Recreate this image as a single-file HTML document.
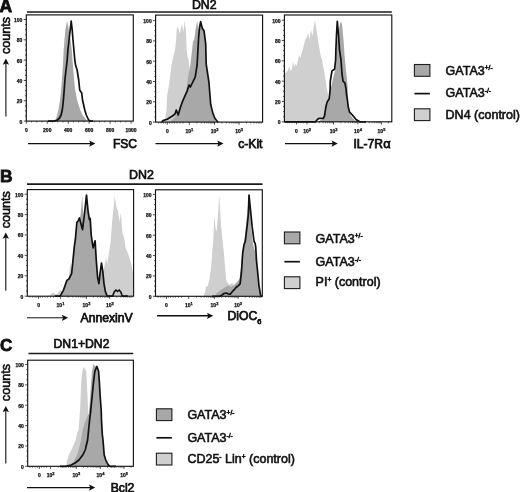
<!DOCTYPE html>
<html><head><meta charset="utf-8"><style>
html,body{margin:0;padding:0;background:#fff;}
svg{display:block;font-family:"Liberation Sans", sans-serif;will-change:transform;}
text{stroke:#111;stroke-width:0.6px;}
</style></head><body>
<svg width="520" height="492" viewBox="0 0 520 492" fill="#111">
<rect width="520" height="492" fill="#fff"/>
<text x="-0.50" y="12.20" font-size="17.5" font-weight="bold" text-anchor="start" style="stroke-width:0.8px">A</text>
<text x="-0.10" y="182.00" font-size="17.4" font-weight="bold" text-anchor="start" style="stroke-width:0.8px">B</text>
<text x="0.00" y="351.40" font-size="17" font-weight="bold" text-anchor="start" style="stroke-width:0.8px">C</text>
<text x="204.20" y="9.40" font-size="12.3" font-weight="normal" text-anchor="middle" style="stroke-width:0.7px">DN2</text>
<text x="141.40" y="178.60" font-size="12.4" font-weight="normal" text-anchor="middle" style="stroke-width:0.7px">DN2</text>
<text x="81.50" y="347.60" font-size="12.2" font-weight="normal" text-anchor="middle" style="stroke-width:0.7px">DN1+DN2</text>
<line x1="27" y1="12.0" x2="391.8" y2="12.0" stroke="#1a1a1a" stroke-width="1.7"/>
<line x1="27" y1="184.2" x2="262.5" y2="184.2" stroke="#1a1a1a" stroke-width="1.7"/>
<line x1="28.5" y1="353.5" x2="133.3" y2="353.5" stroke="#1a1a1a" stroke-width="1.7"/>
<polygon points="54.5,121.1 54.5,121.1 55.8,120.0 58.4,110.0 60.0,100.0 61.1,90.0 62.6,70.0 63.7,50.0 64.5,40.0 65.3,30.0 67.1,21.1 69.0,30.0 70.5,40.0 71.8,50.0 72.5,60.0 73.3,70.0 74.1,80.0 75.2,90.0 77.1,100.0 80.2,110.0 82.5,115.0 86.3,120.0 88.5,121.1 88.5,121.1" fill="#a8a8a8" stroke="none"/>
<polyline points="48.0,121.1 54.0,121.1 57.3,120.0 59.6,118.0 61.1,115.0 62.3,110.0 63.4,100.0 64.2,90.0 64.9,80.0 66.0,70.0 67.2,60.0 67.9,50.0 69.0,40.0 70.2,30.0 71.2,21.1 72.2,30.0 73.0,40.0 73.9,50.0 74.8,60.0 75.6,65.3 77.1,70.0 78.7,80.0 79.7,90.0 81.7,93.0 82.5,100.0 84.8,110.0 86.3,115.0 88.6,120.0 90.5,121.1 93.0,121.1" fill="none" stroke="#111" stroke-width="1.7" stroke-linejoin="round"/>
<polygon points="162.3,122.1 162.3,122.1 163.5,120.5 165.3,118.0 166.5,110.0 167.2,95.0 169.0,85.0 171.5,65.0 173.7,55.0 174.9,50.0 176.2,40.0 176.6,30.0 177.8,26.4 179.8,33.7 181.9,23.9 183.5,32.0 184.7,21.1 185.9,30.0 186.3,40.0 186.7,50.0 187.5,57.0 188.4,58.8 189.6,69.2 191.0,80.0 193.0,110.0 196.0,121.0 196.0,122.1" fill="#cfcfcf" stroke="none"/>
<polygon points="170.0,122.1 170.0,122.1 174.0,118.0 178.0,112.0 182.0,104.0 186.0,92.0 188.0,77.2 190.4,65.0 193.0,41.5 194.2,39.8 195.5,30.0 197.1,20.8 198.5,30.0 200.6,22.0 202.3,28.3 204.0,31.0 205.5,44.0 206.2,64.2 208.6,82.0 210.2,104.5 212.3,113.4 214.8,119.0 216.0,122.1 216.0,122.1" fill="#a8a8a8" stroke="none"/>
<polyline points="161.5,122.1 163.0,120.6 167.2,119.3 172.0,116.2 175.0,114.0 176.3,110.1 178.2,115.0 180.2,108.0 182.4,101.6 187.3,90.6 189.1,85.1 190.4,87.0 191.6,84.5 195.2,77.2 197.1,65.0 198.6,38.0 199.5,28.0 200.6,21.7 202.3,28.3 204.0,30.7 205.7,43.8 206.2,64.2 208.9,82.0 210.7,104.5 212.9,113.4 215.0,118.5 216.8,120.8 218.2,122.1" fill="none" stroke="#111" stroke-width="1.7" stroke-linejoin="round"/>
<polygon points="284.4,121.8 284.4,121.8 284.4,73.5 286.0,72.5 287.5,71.0 289.3,66.5 290.5,71.0 292.0,69.0 293.0,60.4 294.2,67.0 295.4,64.0 296.5,66.0 298.0,60.0 299.0,54.9 300.5,58.0 302.1,51.8 303.5,47.0 305.0,40.0 306.5,38.0 308.2,32.9 309.5,40.0 311.1,30.0 312.5,36.0 313.5,28.0 314.9,20.2 316.5,30.0 318.6,43.8 320.0,52.0 321.0,57.0 322.1,60.0 323.0,66.0 324.0,70.0 325.5,80.0 327.0,90.0 328.2,95.0 328.8,99.0 327.1,102.1 325.8,107.3 324.5,116.0 323.2,118.5 319.7,118.4 317.5,119.8 316.0,121.8 316.0,121.8" fill="#cfcfcf" stroke="none"/>
<polygon points="318.0,121.8 318.0,121.8 323.2,118.5 324.5,116.0 325.8,107.3 327.1,102.1 329.2,98.7 330.1,90.0 331.5,86.0 333.1,78.0 335.2,70.0 335.6,60.0 336.5,45.0 338.5,32.0 340.0,24.0 341.1,21.3 342.3,26.0 343.5,40.0 344.8,58.0 346.0,70.0 347.4,84.0 347.8,90.0 348.3,107.3 349.5,112.0 351.0,116.0 353.0,118.5 356.3,121.8 356.3,121.8" fill="#a8a8a8" stroke="none"/>
<polyline points="284.6,121.8 315.6,121.8 317.3,119.6 318.6,118.5 319.7,118.4 323.2,118.5 324.5,116.0 325.8,107.3 327.1,102.1 329.2,98.7 330.1,90.0 330.3,81.3 331.4,74.2 332.1,70.7 334.6,69.2 335.6,60.0 335.9,49.6 336.5,35.0 337.3,21.3 338.5,35.0 339.5,50.0 341.0,60.0 342.0,74.2 343.1,81.3 344.9,82.8 345.9,88.4 346.6,95.0 347.4,100.0 348.3,107.3 349.5,112.0 353.0,115.7 356.0,119.5 359.7,121.8 366.0,121.8" fill="none" stroke="#111" stroke-width="1.7" stroke-linejoin="round"/>
<rect x="26.3" y="14.9" width="107.00000000000001" height="106.19999999999999" fill="none" stroke="#141414" stroke-width="1.15"/>
<rect x="155.6" y="15.1" width="107.00000000000003" height="107.0" fill="none" stroke="#141414" stroke-width="1.15"/>
<rect x="284.4" y="15.0" width="107.40000000000003" height="106.8" fill="none" stroke="#141414" stroke-width="1.15"/>
<line x1="23.70" y1="121.10" x2="26.3" y2="121.10" stroke="#222" stroke-width="0.8"/>
<text x="22.40" y="123.50" font-size="5.0" font-weight="bold" text-anchor="end" style="stroke-width:0.25px">0</text>
<line x1="25.00" y1="116.02" x2="26.3" y2="116.02" stroke="#222" stroke-width="0.8"/>
<line x1="25.00" y1="110.94" x2="26.3" y2="110.94" stroke="#222" stroke-width="0.8"/>
<line x1="25.00" y1="105.86" x2="26.3" y2="105.86" stroke="#222" stroke-width="0.8"/>
<line x1="23.70" y1="100.78" x2="26.3" y2="100.78" stroke="#222" stroke-width="0.8"/>
<text x="22.40" y="103.18" font-size="5.0" font-weight="bold" text-anchor="end" style="stroke-width:0.25px">20</text>
<line x1="25.00" y1="95.70" x2="26.3" y2="95.70" stroke="#222" stroke-width="0.8"/>
<line x1="25.00" y1="90.62" x2="26.3" y2="90.62" stroke="#222" stroke-width="0.8"/>
<line x1="25.00" y1="85.54" x2="26.3" y2="85.54" stroke="#222" stroke-width="0.8"/>
<line x1="23.70" y1="80.46" x2="26.3" y2="80.46" stroke="#222" stroke-width="0.8"/>
<text x="22.40" y="82.86" font-size="5.0" font-weight="bold" text-anchor="end" style="stroke-width:0.25px">40</text>
<line x1="25.00" y1="75.38" x2="26.3" y2="75.38" stroke="#222" stroke-width="0.8"/>
<line x1="25.00" y1="70.30" x2="26.3" y2="70.30" stroke="#222" stroke-width="0.8"/>
<line x1="25.00" y1="65.22" x2="26.3" y2="65.22" stroke="#222" stroke-width="0.8"/>
<line x1="23.70" y1="60.14" x2="26.3" y2="60.14" stroke="#222" stroke-width="0.8"/>
<text x="22.40" y="62.54" font-size="5.0" font-weight="bold" text-anchor="end" style="stroke-width:0.25px">60</text>
<line x1="25.00" y1="55.06" x2="26.3" y2="55.06" stroke="#222" stroke-width="0.8"/>
<line x1="25.00" y1="49.98" x2="26.3" y2="49.98" stroke="#222" stroke-width="0.8"/>
<line x1="25.00" y1="44.90" x2="26.3" y2="44.90" stroke="#222" stroke-width="0.8"/>
<line x1="23.70" y1="39.82" x2="26.3" y2="39.82" stroke="#222" stroke-width="0.8"/>
<text x="22.40" y="42.22" font-size="5.0" font-weight="bold" text-anchor="end" style="stroke-width:0.25px">80</text>
<line x1="25.00" y1="34.74" x2="26.3" y2="34.74" stroke="#222" stroke-width="0.8"/>
<line x1="25.00" y1="29.66" x2="26.3" y2="29.66" stroke="#222" stroke-width="0.8"/>
<line x1="25.00" y1="24.58" x2="26.3" y2="24.58" stroke="#222" stroke-width="0.8"/>
<line x1="23.70" y1="19.50" x2="26.3" y2="19.50" stroke="#222" stroke-width="0.8"/>
<text x="22.40" y="21.90" font-size="5.0" font-weight="bold" text-anchor="end" style="stroke-width:0.25px">100</text>
<line x1="153.00" y1="122.10" x2="155.6" y2="122.10" stroke="#222" stroke-width="0.8"/>
<text x="151.70" y="124.50" font-size="5.0" font-weight="bold" text-anchor="end" style="stroke-width:0.25px">0</text>
<line x1="154.30" y1="117.02" x2="155.6" y2="117.02" stroke="#222" stroke-width="0.8"/>
<line x1="154.30" y1="111.95" x2="155.6" y2="111.95" stroke="#222" stroke-width="0.8"/>
<line x1="154.30" y1="106.88" x2="155.6" y2="106.88" stroke="#222" stroke-width="0.8"/>
<line x1="153.00" y1="101.80" x2="155.6" y2="101.80" stroke="#222" stroke-width="0.8"/>
<text x="151.70" y="104.20" font-size="5.0" font-weight="bold" text-anchor="end" style="stroke-width:0.25px">20</text>
<line x1="154.30" y1="96.72" x2="155.6" y2="96.72" stroke="#222" stroke-width="0.8"/>
<line x1="154.30" y1="91.65" x2="155.6" y2="91.65" stroke="#222" stroke-width="0.8"/>
<line x1="154.30" y1="86.57" x2="155.6" y2="86.57" stroke="#222" stroke-width="0.8"/>
<line x1="153.00" y1="81.50" x2="155.6" y2="81.50" stroke="#222" stroke-width="0.8"/>
<text x="151.70" y="83.90" font-size="5.0" font-weight="bold" text-anchor="end" style="stroke-width:0.25px">40</text>
<line x1="154.30" y1="76.42" x2="155.6" y2="76.42" stroke="#222" stroke-width="0.8"/>
<line x1="154.30" y1="71.35" x2="155.6" y2="71.35" stroke="#222" stroke-width="0.8"/>
<line x1="154.30" y1="66.28" x2="155.6" y2="66.28" stroke="#222" stroke-width="0.8"/>
<line x1="153.00" y1="61.20" x2="155.6" y2="61.20" stroke="#222" stroke-width="0.8"/>
<text x="151.70" y="63.60" font-size="5.0" font-weight="bold" text-anchor="end" style="stroke-width:0.25px">60</text>
<line x1="154.30" y1="56.12" x2="155.6" y2="56.12" stroke="#222" stroke-width="0.8"/>
<line x1="154.30" y1="51.05" x2="155.6" y2="51.05" stroke="#222" stroke-width="0.8"/>
<line x1="154.30" y1="45.98" x2="155.6" y2="45.98" stroke="#222" stroke-width="0.8"/>
<line x1="153.00" y1="40.90" x2="155.6" y2="40.90" stroke="#222" stroke-width="0.8"/>
<text x="151.70" y="43.30" font-size="5.0" font-weight="bold" text-anchor="end" style="stroke-width:0.25px">80</text>
<line x1="154.30" y1="35.83" x2="155.6" y2="35.83" stroke="#222" stroke-width="0.8"/>
<line x1="154.30" y1="30.75" x2="155.6" y2="30.75" stroke="#222" stroke-width="0.8"/>
<line x1="154.30" y1="25.67" x2="155.6" y2="25.67" stroke="#222" stroke-width="0.8"/>
<line x1="153.00" y1="20.60" x2="155.6" y2="20.60" stroke="#222" stroke-width="0.8"/>
<text x="151.70" y="23.00" font-size="5.0" font-weight="bold" text-anchor="end" style="stroke-width:0.25px">100</text>
<line x1="281.80" y1="121.80" x2="284.4" y2="121.80" stroke="#222" stroke-width="0.8"/>
<text x="280.50" y="124.20" font-size="5.0" font-weight="bold" text-anchor="end" style="stroke-width:0.25px">0</text>
<line x1="283.10" y1="116.72" x2="284.4" y2="116.72" stroke="#222" stroke-width="0.8"/>
<line x1="283.10" y1="111.64" x2="284.4" y2="111.64" stroke="#222" stroke-width="0.8"/>
<line x1="283.10" y1="106.56" x2="284.4" y2="106.56" stroke="#222" stroke-width="0.8"/>
<line x1="281.80" y1="101.48" x2="284.4" y2="101.48" stroke="#222" stroke-width="0.8"/>
<text x="280.50" y="103.88" font-size="5.0" font-weight="bold" text-anchor="end" style="stroke-width:0.25px">20</text>
<line x1="283.10" y1="96.40" x2="284.4" y2="96.40" stroke="#222" stroke-width="0.8"/>
<line x1="283.10" y1="91.32" x2="284.4" y2="91.32" stroke="#222" stroke-width="0.8"/>
<line x1="283.10" y1="86.24" x2="284.4" y2="86.24" stroke="#222" stroke-width="0.8"/>
<line x1="281.80" y1="81.16" x2="284.4" y2="81.16" stroke="#222" stroke-width="0.8"/>
<text x="280.50" y="83.56" font-size="5.0" font-weight="bold" text-anchor="end" style="stroke-width:0.25px">40</text>
<line x1="283.10" y1="76.08" x2="284.4" y2="76.08" stroke="#222" stroke-width="0.8"/>
<line x1="283.10" y1="71.00" x2="284.4" y2="71.00" stroke="#222" stroke-width="0.8"/>
<line x1="283.10" y1="65.92" x2="284.4" y2="65.92" stroke="#222" stroke-width="0.8"/>
<line x1="281.80" y1="60.84" x2="284.4" y2="60.84" stroke="#222" stroke-width="0.8"/>
<text x="280.50" y="63.24" font-size="5.0" font-weight="bold" text-anchor="end" style="stroke-width:0.25px">60</text>
<line x1="283.10" y1="55.76" x2="284.4" y2="55.76" stroke="#222" stroke-width="0.8"/>
<line x1="283.10" y1="50.68" x2="284.4" y2="50.68" stroke="#222" stroke-width="0.8"/>
<line x1="283.10" y1="45.60" x2="284.4" y2="45.60" stroke="#222" stroke-width="0.8"/>
<line x1="281.80" y1="40.52" x2="284.4" y2="40.52" stroke="#222" stroke-width="0.8"/>
<text x="280.50" y="42.92" font-size="5.0" font-weight="bold" text-anchor="end" style="stroke-width:0.25px">80</text>
<line x1="283.10" y1="35.44" x2="284.4" y2="35.44" stroke="#222" stroke-width="0.8"/>
<line x1="283.10" y1="30.36" x2="284.4" y2="30.36" stroke="#222" stroke-width="0.8"/>
<line x1="283.10" y1="25.28" x2="284.4" y2="25.28" stroke="#222" stroke-width="0.8"/>
<line x1="281.80" y1="20.20" x2="284.4" y2="20.20" stroke="#222" stroke-width="0.8"/>
<text x="280.50" y="22.60" font-size="5.0" font-weight="bold" text-anchor="end" style="stroke-width:0.25px">100</text>
<line x1="26.30" y1="121.1" x2="26.30" y2="123.69999999999999" stroke="#222" stroke-width="0.8"/>
<line x1="47.25" y1="121.1" x2="47.25" y2="123.69999999999999" stroke="#222" stroke-width="0.8"/>
<line x1="68.20" y1="121.1" x2="68.20" y2="123.69999999999999" stroke="#222" stroke-width="0.8"/>
<line x1="89.15" y1="121.1" x2="89.15" y2="123.69999999999999" stroke="#222" stroke-width="0.8"/>
<line x1="110.10" y1="121.1" x2="110.10" y2="123.69999999999999" stroke="#222" stroke-width="0.8"/>
<line x1="131.05" y1="121.1" x2="131.05" y2="123.69999999999999" stroke="#222" stroke-width="0.8"/>
<line x1="31.54" y1="121.1" x2="31.54" y2="122.5" stroke="#222" stroke-width="0.7"/>
<line x1="36.77" y1="121.1" x2="36.77" y2="122.5" stroke="#222" stroke-width="0.7"/>
<line x1="42.01" y1="121.1" x2="42.01" y2="122.5" stroke="#222" stroke-width="0.7"/>
<line x1="52.49" y1="121.1" x2="52.49" y2="122.5" stroke="#222" stroke-width="0.7"/>
<line x1="57.72" y1="121.1" x2="57.72" y2="122.5" stroke="#222" stroke-width="0.7"/>
<line x1="62.96" y1="121.1" x2="62.96" y2="122.5" stroke="#222" stroke-width="0.7"/>
<line x1="73.44" y1="121.1" x2="73.44" y2="122.5" stroke="#222" stroke-width="0.7"/>
<line x1="78.67" y1="121.1" x2="78.67" y2="122.5" stroke="#222" stroke-width="0.7"/>
<line x1="83.91" y1="121.1" x2="83.91" y2="122.5" stroke="#222" stroke-width="0.7"/>
<line x1="94.39" y1="121.1" x2="94.39" y2="122.5" stroke="#222" stroke-width="0.7"/>
<line x1="99.62" y1="121.1" x2="99.62" y2="122.5" stroke="#222" stroke-width="0.7"/>
<line x1="104.86" y1="121.1" x2="104.86" y2="122.5" stroke="#222" stroke-width="0.7"/>
<line x1="115.34" y1="121.1" x2="115.34" y2="122.5" stroke="#222" stroke-width="0.7"/>
<line x1="120.57" y1="121.1" x2="120.57" y2="122.5" stroke="#222" stroke-width="0.7"/>
<line x1="125.81" y1="121.1" x2="125.81" y2="122.5" stroke="#222" stroke-width="0.7"/>
<text x="26.30" y="132.00" font-size="5.0" font-weight="bold" text-anchor="middle" style="stroke-width:0.25px">0</text>
<text x="47.25" y="132.00" font-size="5.0" font-weight="bold" text-anchor="middle" style="stroke-width:0.25px">200</text>
<text x="68.20" y="132.00" font-size="5.0" font-weight="bold" text-anchor="middle" style="stroke-width:0.25px">400</text>
<text x="89.15" y="132.00" font-size="5.0" font-weight="bold" text-anchor="middle" style="stroke-width:0.25px">600</text>
<text x="110.10" y="132.00" font-size="5.0" font-weight="bold" text-anchor="middle" style="stroke-width:0.25px">800</text>
<text x="131.05" y="132.00" font-size="5.0" font-weight="bold" text-anchor="middle" style="stroke-width:0.25px">1000</text>
<line x1="167.30" y1="122.1" x2="167.30" y2="124.69999999999999" stroke="#222" stroke-width="0.8"/>
<line x1="189.30" y1="122.1" x2="189.30" y2="124.69999999999999" stroke="#222" stroke-width="0.8"/>
<line x1="214.50" y1="122.1" x2="214.50" y2="124.69999999999999" stroke="#222" stroke-width="0.8"/>
<line x1="239.10" y1="122.1" x2="239.10" y2="124.69999999999999" stroke="#222" stroke-width="0.8"/>
<line x1="158.50" y1="122.1" x2="158.50" y2="123.5" stroke="#222" stroke-width="0.7"/>
<line x1="161.00" y1="122.1" x2="161.00" y2="123.5" stroke="#222" stroke-width="0.7"/>
<line x1="163.50" y1="122.1" x2="163.50" y2="123.5" stroke="#222" stroke-width="0.7"/>
<line x1="165.50" y1="122.1" x2="165.50" y2="123.5" stroke="#222" stroke-width="0.7"/>
<line x1="169.50" y1="122.1" x2="169.50" y2="123.5" stroke="#222" stroke-width="0.7"/>
<line x1="172.00" y1="122.1" x2="172.00" y2="123.5" stroke="#222" stroke-width="0.7"/>
<line x1="174.50" y1="122.1" x2="174.50" y2="123.5" stroke="#222" stroke-width="0.7"/>
<line x1="177.00" y1="122.1" x2="177.00" y2="123.5" stroke="#222" stroke-width="0.7"/>
<line x1="180.00" y1="122.1" x2="180.00" y2="123.5" stroke="#222" stroke-width="0.7"/>
<line x1="183.00" y1="122.1" x2="183.00" y2="123.5" stroke="#222" stroke-width="0.7"/>
<line x1="196.89" y1="122.1" x2="196.89" y2="123.5" stroke="#222" stroke-width="0.7"/>
<line x1="201.32" y1="122.1" x2="201.32" y2="123.5" stroke="#222" stroke-width="0.7"/>
<line x1="204.47" y1="122.1" x2="204.47" y2="123.5" stroke="#222" stroke-width="0.7"/>
<line x1="206.91" y1="122.1" x2="206.91" y2="123.5" stroke="#222" stroke-width="0.7"/>
<line x1="208.91" y1="122.1" x2="208.91" y2="123.5" stroke="#222" stroke-width="0.7"/>
<line x1="210.60" y1="122.1" x2="210.60" y2="123.5" stroke="#222" stroke-width="0.7"/>
<line x1="212.06" y1="122.1" x2="212.06" y2="123.5" stroke="#222" stroke-width="0.7"/>
<line x1="213.35" y1="122.1" x2="213.35" y2="123.5" stroke="#222" stroke-width="0.7"/>
<line x1="221.91" y1="122.1" x2="221.91" y2="123.5" stroke="#222" stroke-width="0.7"/>
<line x1="226.24" y1="122.1" x2="226.24" y2="123.5" stroke="#222" stroke-width="0.7"/>
<line x1="229.31" y1="122.1" x2="229.31" y2="123.5" stroke="#222" stroke-width="0.7"/>
<line x1="231.69" y1="122.1" x2="231.69" y2="123.5" stroke="#222" stroke-width="0.7"/>
<line x1="233.64" y1="122.1" x2="233.64" y2="123.5" stroke="#222" stroke-width="0.7"/>
<line x1="235.29" y1="122.1" x2="235.29" y2="123.5" stroke="#222" stroke-width="0.7"/>
<line x1="236.72" y1="122.1" x2="236.72" y2="123.5" stroke="#222" stroke-width="0.7"/>
<line x1="237.97" y1="122.1" x2="237.97" y2="123.5" stroke="#222" stroke-width="0.7"/>
<line x1="246.51" y1="122.1" x2="246.51" y2="123.5" stroke="#222" stroke-width="0.7"/>
<line x1="250.84" y1="122.1" x2="250.84" y2="123.5" stroke="#222" stroke-width="0.7"/>
<line x1="253.91" y1="122.1" x2="253.91" y2="123.5" stroke="#222" stroke-width="0.7"/>
<line x1="256.29" y1="122.1" x2="256.29" y2="123.5" stroke="#222" stroke-width="0.7"/>
<line x1="258.24" y1="122.1" x2="258.24" y2="123.5" stroke="#222" stroke-width="0.7"/>
<line x1="259.89" y1="122.1" x2="259.89" y2="123.5" stroke="#222" stroke-width="0.7"/>
<line x1="261.32" y1="122.1" x2="261.32" y2="123.5" stroke="#222" stroke-width="0.7"/>
<text x="167.30" y="133.20" font-size="5.0" font-weight="bold" text-anchor="middle" style="stroke-width:0.25px">0</text>
<text x="189.40" y="133.20" font-size="5.0" font-weight="bold" text-anchor="middle" style="stroke-width:0.25px">10<tspan font-size="4.0" dy="-2.4">1</tspan></text>
<text x="214.60" y="133.20" font-size="5.0" font-weight="bold" text-anchor="middle" style="stroke-width:0.25px">10<tspan font-size="4.0" dy="-2.4">2</tspan></text>
<text x="239.20" y="133.20" font-size="5.0" font-weight="bold" text-anchor="middle" style="stroke-width:0.25px">10<tspan font-size="4.0" dy="-2.4">3</tspan></text>
<line x1="296.50" y1="121.8" x2="296.50" y2="124.39999999999999" stroke="#222" stroke-width="0.8"/>
<line x1="307.00" y1="121.8" x2="307.00" y2="124.39999999999999" stroke="#222" stroke-width="0.8"/>
<line x1="333.50" y1="121.8" x2="333.50" y2="124.39999999999999" stroke="#222" stroke-width="0.8"/>
<line x1="357.90" y1="121.8" x2="357.90" y2="124.39999999999999" stroke="#222" stroke-width="0.8"/>
<line x1="381.40" y1="121.8" x2="381.40" y2="124.39999999999999" stroke="#222" stroke-width="0.8"/>
<line x1="287.00" y1="121.8" x2="287.00" y2="123.2" stroke="#222" stroke-width="0.7"/>
<line x1="289.50" y1="121.8" x2="289.50" y2="123.2" stroke="#222" stroke-width="0.7"/>
<line x1="292.00" y1="121.8" x2="292.00" y2="123.2" stroke="#222" stroke-width="0.7"/>
<line x1="294.50" y1="121.8" x2="294.50" y2="123.2" stroke="#222" stroke-width="0.7"/>
<line x1="298.50" y1="121.8" x2="298.50" y2="123.2" stroke="#222" stroke-width="0.7"/>
<line x1="301.00" y1="121.8" x2="301.00" y2="123.2" stroke="#222" stroke-width="0.7"/>
<line x1="303.50" y1="121.8" x2="303.50" y2="123.2" stroke="#222" stroke-width="0.7"/>
<line x1="314.98" y1="121.8" x2="314.98" y2="123.2" stroke="#222" stroke-width="0.7"/>
<line x1="319.64" y1="121.8" x2="319.64" y2="123.2" stroke="#222" stroke-width="0.7"/>
<line x1="322.95" y1="121.8" x2="322.95" y2="123.2" stroke="#222" stroke-width="0.7"/>
<line x1="325.52" y1="121.8" x2="325.52" y2="123.2" stroke="#222" stroke-width="0.7"/>
<line x1="327.62" y1="121.8" x2="327.62" y2="123.2" stroke="#222" stroke-width="0.7"/>
<line x1="329.40" y1="121.8" x2="329.40" y2="123.2" stroke="#222" stroke-width="0.7"/>
<line x1="330.93" y1="121.8" x2="330.93" y2="123.2" stroke="#222" stroke-width="0.7"/>
<line x1="332.29" y1="121.8" x2="332.29" y2="123.2" stroke="#222" stroke-width="0.7"/>
<line x1="340.85" y1="121.8" x2="340.85" y2="123.2" stroke="#222" stroke-width="0.7"/>
<line x1="345.14" y1="121.8" x2="345.14" y2="123.2" stroke="#222" stroke-width="0.7"/>
<line x1="348.19" y1="121.8" x2="348.19" y2="123.2" stroke="#222" stroke-width="0.7"/>
<line x1="350.55" y1="121.8" x2="350.55" y2="123.2" stroke="#222" stroke-width="0.7"/>
<line x1="352.49" y1="121.8" x2="352.49" y2="123.2" stroke="#222" stroke-width="0.7"/>
<line x1="354.12" y1="121.8" x2="354.12" y2="123.2" stroke="#222" stroke-width="0.7"/>
<line x1="355.54" y1="121.8" x2="355.54" y2="123.2" stroke="#222" stroke-width="0.7"/>
<line x1="356.78" y1="121.8" x2="356.78" y2="123.2" stroke="#222" stroke-width="0.7"/>
<line x1="364.97" y1="121.8" x2="364.97" y2="123.2" stroke="#222" stroke-width="0.7"/>
<line x1="369.11" y1="121.8" x2="369.11" y2="123.2" stroke="#222" stroke-width="0.7"/>
<line x1="372.05" y1="121.8" x2="372.05" y2="123.2" stroke="#222" stroke-width="0.7"/>
<line x1="374.33" y1="121.8" x2="374.33" y2="123.2" stroke="#222" stroke-width="0.7"/>
<line x1="376.19" y1="121.8" x2="376.19" y2="123.2" stroke="#222" stroke-width="0.7"/>
<line x1="377.76" y1="121.8" x2="377.76" y2="123.2" stroke="#222" stroke-width="0.7"/>
<line x1="379.12" y1="121.8" x2="379.12" y2="123.2" stroke="#222" stroke-width="0.7"/>
<line x1="380.32" y1="121.8" x2="380.32" y2="123.2" stroke="#222" stroke-width="0.7"/>
<line x1="388.47" y1="121.8" x2="388.47" y2="123.2" stroke="#222" stroke-width="0.7"/>
<text x="296.50" y="133.00" font-size="5.0" font-weight="bold" text-anchor="middle" style="stroke-width:0.25px">0</text>
<text x="307.10" y="133.00" font-size="5.0" font-weight="bold" text-anchor="middle" style="stroke-width:0.25px">10<tspan font-size="4.0" dy="-2.4">2</tspan></text>
<text x="333.60" y="133.00" font-size="5.0" font-weight="bold" text-anchor="middle" style="stroke-width:0.25px">10<tspan font-size="4.0" dy="-2.4">3</tspan></text>
<text x="358.00" y="133.00" font-size="5.0" font-weight="bold" text-anchor="middle" style="stroke-width:0.25px">10<tspan font-size="4.0" dy="-2.4">4</tspan></text>
<text x="381.50" y="133.00" font-size="5.0" font-weight="bold" text-anchor="middle" style="stroke-width:0.25px">10<tspan font-size="4.0" dy="-2.4">5</tspan></text>
<line x1="28" y1="143.6" x2="91.4" y2="143.6" stroke="#111" stroke-width="1.1"/>
<polygon points="95.4,143.6 89.2,140.5 90.4,143.6 89.2,146.7" fill="#111"/>
<line x1="155.5" y1="143.6" x2="219.5" y2="143.6" stroke="#111" stroke-width="1.1"/>
<polygon points="223.5,143.6 217.3,140.5 218.5,143.6 217.3,146.7" fill="#111"/>
<line x1="285" y1="143.6" x2="333.8" y2="143.6" stroke="#111" stroke-width="1.1"/>
<polygon points="337.8,143.6 331.6,140.5 332.8,143.6 331.6,146.7" fill="#111"/>
<text x="112.90" y="148.10" font-size="12.1" font-weight="normal" text-anchor="start" style="stroke-width:0.75px">FSC</text>
<text x="238.30" y="148.00" font-size="12.1" font-weight="normal" text-anchor="start" style="stroke-width:0.75px">c-Kit</text>
<text x="353.4" y="148.0" font-size="12.1" style="stroke-width:0.75px">IL-7R<tspan dx="0.3" font-size="12.8">&#945;</tspan></text>
<text x="6.3" y="35.5" font-size="12.6" text-anchor="middle" transform="rotate(-90 6.3 35.5)" dominant-baseline="central" style="stroke-width:0.6px">counts</text>
<line x1="5.9" y1="116.4" x2="5.9" y2="62.6" stroke="#111" stroke-width="1.1"/>
<polygon points="5.9,58.6 2.7,64.8 5.9,63.6 9.100000000000001,64.8" fill="#111"/>
<rect x="414.4" y="64.5" width="15.5" height="11.8" fill="#a8a8a8" stroke="#1e1e1e" stroke-width="1.1"/>
<line x1="414.4" y1="93.6" x2="429.9" y2="93.6" stroke="#111" stroke-width="1.7"/>
<rect x="414.4" y="108.8" width="15.5" height="11.8" fill="#cfcfcf" stroke="#1e1e1e" stroke-width="1.1"/>
<text x="445.6" y="74.5" font-size="12.5">GATA3<tspan font-size="6.6" dy="-4.2">+/-</tspan></text>
<text x="445.6" y="97.4" font-size="12.5">GATA3<tspan font-size="6.6" dy="-4.2">-/-</tspan></text>
<text x="445.6" y="118.8" font-size="12.5">DN4 (control)</text>
<polygon points="49.0,296.2 49.0,296.2 51.0,294.0 53.5,292.5 56.0,294.5 58.0,293.0 60.2,289.8 62.0,292.0 63.0,296.2 63.0,296.2" fill="#cfcfcf" stroke="none"/>
<polygon points="68.0,296.2 68.0,296.2 69.0,275.0 70.3,262.9 71.5,270.0 72.0,296.2 72.0,296.2" fill="#cfcfcf" stroke="none"/>
<polygon points="99.0,296.2 99.0,296.2 101.0,286.0 102.7,274.0 104.5,266.0 106.0,257.0 107.1,265.0 108.6,254.9 110.4,243.9 112.1,221.9 114.8,195.6 116.5,208.0 118.0,211.0 119.5,222.0 120.9,213.1 122.4,232.9 124.0,237.3 125.7,248.3 127.5,252.0 129.0,257.0 131.2,263.6 133.4,274.6 133.4,296.2 133.4,296.2" fill="#cfcfcf" stroke="none"/>
<polygon points="60.2,296.2 60.2,296.2 63.6,289.8 66.9,280.4 68.9,279.0 71.6,273.6 73.0,260.2 74.3,246.7 75.3,240.0 76.9,222.1 77.8,221.5 79.4,218.0 80.5,215.0 81.5,205.0 82.2,195.2 83.0,210.0 84.0,222.0 85.3,210.0 86.5,195.2 88.1,211.5 89.4,219.6 90.2,218.4 91.2,235.0 93.1,247.8 95.1,240.8 96.3,260.6 97.6,277.3 98.9,283.7 100.2,272.2 101.5,263.2 102.7,270.9 104.0,283.7 105.3,291.4 106.6,294.6 107.0,296.2 107.0,296.2" fill="#a8a8a8" stroke="none"/>
<polyline points="55.0,296.2 60.2,296.2 63.6,289.8 66.9,280.4 68.9,279.0 71.6,273.6 73.0,260.2 74.3,246.7 75.3,240.0 76.9,222.1 77.8,221.5 79.4,218.0 81.0,224.0 82.5,229.6 84.0,218.0 86.5,195.2 88.1,211.5 89.4,219.6 90.2,218.4 91.2,235.0 92.2,242.0 93.1,247.8 95.1,240.8 96.3,260.6 97.6,277.3 98.9,283.7 100.2,272.2 101.5,263.2 102.7,270.9 104.0,283.7 105.3,291.4 106.6,294.6 107.5,296.2 112.6,296.2 114.2,292.0 115.9,290.0 117.5,291.5 119.1,290.0 120.8,292.0 122.4,296.2 128.0,296.2" fill="none" stroke="#111" stroke-width="1.7" stroke-linejoin="round"/>
<polygon points="203.5,296.3 203.5,296.3 205.0,292.0 206.1,285.8 207.5,287.0 209.4,279.2 211.3,266.0 212.4,250.0 213.3,240.0 214.3,215.7 215.5,228.0 216.7,231.2 218.0,215.0 219.2,195.2 220.2,212.0 221.1,226.2 222.5,240.0 223.6,250.0 225.0,266.0 226.1,279.2 227.7,283.1 229.5,285.0 231.0,283.5 232.3,283.1 233.5,285.0 234.0,296.3 234.0,296.3" fill="#cfcfcf" stroke="none"/>
<polygon points="214.6,296.3 214.6,296.3 217.0,293.0 221.1,289.7 224.0,288.0 226.0,286.5 228.5,285.5 231.0,287.0 234.2,285.1 237.0,282.0 239.4,279.2 241.0,268.0 242.1,253.0 244.0,244.0 245.9,226.2 247.5,210.0 249.0,196.0 250.0,205.0 250.6,213.8 251.2,226.2 252.2,238.0 253.2,245.0 254.5,249.0 256.0,256.0 257.3,272.7 258.7,285.8 260.2,294.2 261.0,296.3 261.0,296.3" fill="#a8a8a8" stroke="none"/>
<polyline points="212.0,296.3 219.8,296.3 222.0,295.0 224.0,293.5 226.4,293.0 228.0,293.8 230.3,294.2 232.0,292.0 234.2,289.7 236.0,287.5 238.1,285.8 240.1,283.8 241.4,272.7 242.7,253.0 244.0,244.8 245.3,241.1 247.1,226.2 248.4,213.8 249.0,195.2 250.9,213.8 252.1,226.2 254.0,241.1 255.2,243.6 255.8,247.8 256.4,259.6 257.7,272.7 259.0,285.8 260.4,294.2 261.2,296.3 262.3,296.3" fill="none" stroke="#111" stroke-width="1.7" stroke-linejoin="round"/>
<rect x="27.3" y="189.6" width="106.3" height="106.6" fill="none" stroke="#141414" stroke-width="1.15"/>
<rect x="155.5" y="189.8" width="106.80000000000001" height="106.5" fill="none" stroke="#141414" stroke-width="1.15"/>
<line x1="24.70" y1="296.20" x2="27.3" y2="296.20" stroke="#222" stroke-width="0.8"/>
<text x="23.40" y="298.60" font-size="5.0" font-weight="bold" text-anchor="end" style="stroke-width:0.25px">0</text>
<line x1="26.00" y1="291.10" x2="27.3" y2="291.10" stroke="#222" stroke-width="0.8"/>
<line x1="26.00" y1="286.00" x2="27.3" y2="286.00" stroke="#222" stroke-width="0.8"/>
<line x1="26.00" y1="280.90" x2="27.3" y2="280.90" stroke="#222" stroke-width="0.8"/>
<line x1="24.70" y1="275.80" x2="27.3" y2="275.80" stroke="#222" stroke-width="0.8"/>
<text x="23.40" y="278.20" font-size="5.0" font-weight="bold" text-anchor="end" style="stroke-width:0.25px">20</text>
<line x1="26.00" y1="270.70" x2="27.3" y2="270.70" stroke="#222" stroke-width="0.8"/>
<line x1="26.00" y1="265.60" x2="27.3" y2="265.60" stroke="#222" stroke-width="0.8"/>
<line x1="26.00" y1="260.50" x2="27.3" y2="260.50" stroke="#222" stroke-width="0.8"/>
<line x1="24.70" y1="255.40" x2="27.3" y2="255.40" stroke="#222" stroke-width="0.8"/>
<text x="23.40" y="257.80" font-size="5.0" font-weight="bold" text-anchor="end" style="stroke-width:0.25px">40</text>
<line x1="26.00" y1="250.30" x2="27.3" y2="250.30" stroke="#222" stroke-width="0.8"/>
<line x1="26.00" y1="245.20" x2="27.3" y2="245.20" stroke="#222" stroke-width="0.8"/>
<line x1="26.00" y1="240.10" x2="27.3" y2="240.10" stroke="#222" stroke-width="0.8"/>
<line x1="24.70" y1="235.00" x2="27.3" y2="235.00" stroke="#222" stroke-width="0.8"/>
<text x="23.40" y="237.40" font-size="5.0" font-weight="bold" text-anchor="end" style="stroke-width:0.25px">60</text>
<line x1="26.00" y1="229.90" x2="27.3" y2="229.90" stroke="#222" stroke-width="0.8"/>
<line x1="26.00" y1="224.80" x2="27.3" y2="224.80" stroke="#222" stroke-width="0.8"/>
<line x1="26.00" y1="219.70" x2="27.3" y2="219.70" stroke="#222" stroke-width="0.8"/>
<line x1="24.70" y1="214.60" x2="27.3" y2="214.60" stroke="#222" stroke-width="0.8"/>
<text x="23.40" y="217.00" font-size="5.0" font-weight="bold" text-anchor="end" style="stroke-width:0.25px">80</text>
<line x1="26.00" y1="209.50" x2="27.3" y2="209.50" stroke="#222" stroke-width="0.8"/>
<line x1="26.00" y1="204.40" x2="27.3" y2="204.40" stroke="#222" stroke-width="0.8"/>
<line x1="26.00" y1="199.30" x2="27.3" y2="199.30" stroke="#222" stroke-width="0.8"/>
<line x1="24.70" y1="194.20" x2="27.3" y2="194.20" stroke="#222" stroke-width="0.8"/>
<text x="23.40" y="196.60" font-size="5.0" font-weight="bold" text-anchor="end" style="stroke-width:0.25px">100</text>
<line x1="152.90" y1="296.30" x2="155.5" y2="296.30" stroke="#222" stroke-width="0.8"/>
<text x="151.60" y="298.70" font-size="5.0" font-weight="bold" text-anchor="end" style="stroke-width:0.25px">0</text>
<line x1="154.20" y1="291.20" x2="155.5" y2="291.20" stroke="#222" stroke-width="0.8"/>
<line x1="154.20" y1="286.11" x2="155.5" y2="286.11" stroke="#222" stroke-width="0.8"/>
<line x1="154.20" y1="281.01" x2="155.5" y2="281.01" stroke="#222" stroke-width="0.8"/>
<line x1="152.90" y1="275.92" x2="155.5" y2="275.92" stroke="#222" stroke-width="0.8"/>
<text x="151.60" y="278.32" font-size="5.0" font-weight="bold" text-anchor="end" style="stroke-width:0.25px">20</text>
<line x1="154.20" y1="270.82" x2="155.5" y2="270.82" stroke="#222" stroke-width="0.8"/>
<line x1="154.20" y1="265.73" x2="155.5" y2="265.73" stroke="#222" stroke-width="0.8"/>
<line x1="154.20" y1="260.63" x2="155.5" y2="260.63" stroke="#222" stroke-width="0.8"/>
<line x1="152.90" y1="255.54" x2="155.5" y2="255.54" stroke="#222" stroke-width="0.8"/>
<text x="151.60" y="257.94" font-size="5.0" font-weight="bold" text-anchor="end" style="stroke-width:0.25px">40</text>
<line x1="154.20" y1="250.44" x2="155.5" y2="250.44" stroke="#222" stroke-width="0.8"/>
<line x1="154.20" y1="245.35" x2="155.5" y2="245.35" stroke="#222" stroke-width="0.8"/>
<line x1="154.20" y1="240.25" x2="155.5" y2="240.25" stroke="#222" stroke-width="0.8"/>
<line x1="152.90" y1="235.16" x2="155.5" y2="235.16" stroke="#222" stroke-width="0.8"/>
<text x="151.60" y="237.56" font-size="5.0" font-weight="bold" text-anchor="end" style="stroke-width:0.25px">60</text>
<line x1="154.20" y1="230.06" x2="155.5" y2="230.06" stroke="#222" stroke-width="0.8"/>
<line x1="154.20" y1="224.97" x2="155.5" y2="224.97" stroke="#222" stroke-width="0.8"/>
<line x1="154.20" y1="219.88" x2="155.5" y2="219.88" stroke="#222" stroke-width="0.8"/>
<line x1="152.90" y1="214.78" x2="155.5" y2="214.78" stroke="#222" stroke-width="0.8"/>
<text x="151.60" y="217.18" font-size="5.0" font-weight="bold" text-anchor="end" style="stroke-width:0.25px">80</text>
<line x1="154.20" y1="209.69" x2="155.5" y2="209.69" stroke="#222" stroke-width="0.8"/>
<line x1="154.20" y1="204.59" x2="155.5" y2="204.59" stroke="#222" stroke-width="0.8"/>
<line x1="154.20" y1="199.50" x2="155.5" y2="199.50" stroke="#222" stroke-width="0.8"/>
<line x1="152.90" y1="194.40" x2="155.5" y2="194.40" stroke="#222" stroke-width="0.8"/>
<text x="151.60" y="196.80" font-size="5.0" font-weight="bold" text-anchor="end" style="stroke-width:0.25px">100</text>
<line x1="38.60" y1="296.2" x2="38.60" y2="298.8" stroke="#222" stroke-width="0.8"/>
<line x1="60.40" y1="296.2" x2="60.40" y2="298.8" stroke="#222" stroke-width="0.8"/>
<line x1="86.40" y1="296.2" x2="86.40" y2="298.8" stroke="#222" stroke-width="0.8"/>
<line x1="109.70" y1="296.2" x2="109.70" y2="298.8" stroke="#222" stroke-width="0.8"/>
<line x1="30.00" y1="296.2" x2="30.00" y2="297.59999999999997" stroke="#222" stroke-width="0.7"/>
<line x1="32.50" y1="296.2" x2="32.50" y2="297.59999999999997" stroke="#222" stroke-width="0.7"/>
<line x1="35.00" y1="296.2" x2="35.00" y2="297.59999999999997" stroke="#222" stroke-width="0.7"/>
<line x1="36.80" y1="296.2" x2="36.80" y2="297.59999999999997" stroke="#222" stroke-width="0.7"/>
<line x1="40.40" y1="296.2" x2="40.40" y2="297.59999999999997" stroke="#222" stroke-width="0.7"/>
<line x1="42.50" y1="296.2" x2="42.50" y2="297.59999999999997" stroke="#222" stroke-width="0.7"/>
<line x1="45.00" y1="296.2" x2="45.00" y2="297.59999999999997" stroke="#222" stroke-width="0.7"/>
<line x1="47.50" y1="296.2" x2="47.50" y2="297.59999999999997" stroke="#222" stroke-width="0.7"/>
<line x1="50.50" y1="296.2" x2="50.50" y2="297.59999999999997" stroke="#222" stroke-width="0.7"/>
<line x1="53.50" y1="296.2" x2="53.50" y2="297.59999999999997" stroke="#222" stroke-width="0.7"/>
<line x1="68.23" y1="296.2" x2="68.23" y2="297.59999999999997" stroke="#222" stroke-width="0.7"/>
<line x1="72.81" y1="296.2" x2="72.81" y2="297.59999999999997" stroke="#222" stroke-width="0.7"/>
<line x1="76.05" y1="296.2" x2="76.05" y2="297.59999999999997" stroke="#222" stroke-width="0.7"/>
<line x1="78.57" y1="296.2" x2="78.57" y2="297.59999999999997" stroke="#222" stroke-width="0.7"/>
<line x1="80.63" y1="296.2" x2="80.63" y2="297.59999999999997" stroke="#222" stroke-width="0.7"/>
<line x1="82.37" y1="296.2" x2="82.37" y2="297.59999999999997" stroke="#222" stroke-width="0.7"/>
<line x1="83.88" y1="296.2" x2="83.88" y2="297.59999999999997" stroke="#222" stroke-width="0.7"/>
<line x1="85.21" y1="296.2" x2="85.21" y2="297.59999999999997" stroke="#222" stroke-width="0.7"/>
<line x1="93.41" y1="296.2" x2="93.41" y2="297.59999999999997" stroke="#222" stroke-width="0.7"/>
<line x1="97.52" y1="296.2" x2="97.52" y2="297.59999999999997" stroke="#222" stroke-width="0.7"/>
<line x1="100.43" y1="296.2" x2="100.43" y2="297.59999999999997" stroke="#222" stroke-width="0.7"/>
<line x1="102.69" y1="296.2" x2="102.69" y2="297.59999999999997" stroke="#222" stroke-width="0.7"/>
<line x1="104.53" y1="296.2" x2="104.53" y2="297.59999999999997" stroke="#222" stroke-width="0.7"/>
<line x1="106.09" y1="296.2" x2="106.09" y2="297.59999999999997" stroke="#222" stroke-width="0.7"/>
<line x1="107.44" y1="296.2" x2="107.44" y2="297.59999999999997" stroke="#222" stroke-width="0.7"/>
<line x1="108.63" y1="296.2" x2="108.63" y2="297.59999999999997" stroke="#222" stroke-width="0.7"/>
<line x1="116.71" y1="296.2" x2="116.71" y2="297.59999999999997" stroke="#222" stroke-width="0.7"/>
<line x1="120.82" y1="296.2" x2="120.82" y2="297.59999999999997" stroke="#222" stroke-width="0.7"/>
<line x1="123.73" y1="296.2" x2="123.73" y2="297.59999999999997" stroke="#222" stroke-width="0.7"/>
<line x1="125.99" y1="296.2" x2="125.99" y2="297.59999999999997" stroke="#222" stroke-width="0.7"/>
<line x1="127.83" y1="296.2" x2="127.83" y2="297.59999999999997" stroke="#222" stroke-width="0.7"/>
<line x1="129.39" y1="296.2" x2="129.39" y2="297.59999999999997" stroke="#222" stroke-width="0.7"/>
<line x1="130.74" y1="296.2" x2="130.74" y2="297.59999999999997" stroke="#222" stroke-width="0.7"/>
<line x1="131.93" y1="296.2" x2="131.93" y2="297.59999999999997" stroke="#222" stroke-width="0.7"/>
<text x="38.60" y="307.30" font-size="5.0" font-weight="bold" text-anchor="middle" style="stroke-width:0.25px">0</text>
<text x="60.50" y="307.30" font-size="5.0" font-weight="bold" text-anchor="middle" style="stroke-width:0.25px">10<tspan font-size="4.0" dy="-2.4">1</tspan></text>
<text x="86.50" y="307.30" font-size="5.0" font-weight="bold" text-anchor="middle" style="stroke-width:0.25px">10<tspan font-size="4.0" dy="-2.4">2</tspan></text>
<text x="109.80" y="307.30" font-size="5.0" font-weight="bold" text-anchor="middle" style="stroke-width:0.25px">10<tspan font-size="4.0" dy="-2.4">3</tspan></text>
<line x1="166.50" y1="296.3" x2="166.50" y2="298.90000000000003" stroke="#222" stroke-width="0.8"/>
<line x1="188.70" y1="296.3" x2="188.70" y2="298.90000000000003" stroke="#222" stroke-width="0.8"/>
<line x1="214.40" y1="296.3" x2="214.40" y2="298.90000000000003" stroke="#222" stroke-width="0.8"/>
<line x1="238.10" y1="296.3" x2="238.10" y2="298.90000000000003" stroke="#222" stroke-width="0.8"/>
<line x1="158.00" y1="296.3" x2="158.00" y2="297.7" stroke="#222" stroke-width="0.7"/>
<line x1="160.50" y1="296.3" x2="160.50" y2="297.7" stroke="#222" stroke-width="0.7"/>
<line x1="163.00" y1="296.3" x2="163.00" y2="297.7" stroke="#222" stroke-width="0.7"/>
<line x1="164.80" y1="296.3" x2="164.80" y2="297.7" stroke="#222" stroke-width="0.7"/>
<line x1="168.30" y1="296.3" x2="168.30" y2="297.7" stroke="#222" stroke-width="0.7"/>
<line x1="170.50" y1="296.3" x2="170.50" y2="297.7" stroke="#222" stroke-width="0.7"/>
<line x1="173.00" y1="296.3" x2="173.00" y2="297.7" stroke="#222" stroke-width="0.7"/>
<line x1="175.50" y1="296.3" x2="175.50" y2="297.7" stroke="#222" stroke-width="0.7"/>
<line x1="178.50" y1="296.3" x2="178.50" y2="297.7" stroke="#222" stroke-width="0.7"/>
<line x1="181.50" y1="296.3" x2="181.50" y2="297.7" stroke="#222" stroke-width="0.7"/>
<line x1="196.44" y1="296.3" x2="196.44" y2="297.7" stroke="#222" stroke-width="0.7"/>
<line x1="200.96" y1="296.3" x2="200.96" y2="297.7" stroke="#222" stroke-width="0.7"/>
<line x1="204.17" y1="296.3" x2="204.17" y2="297.7" stroke="#222" stroke-width="0.7"/>
<line x1="206.66" y1="296.3" x2="206.66" y2="297.7" stroke="#222" stroke-width="0.7"/>
<line x1="208.70" y1="296.3" x2="208.70" y2="297.7" stroke="#222" stroke-width="0.7"/>
<line x1="210.42" y1="296.3" x2="210.42" y2="297.7" stroke="#222" stroke-width="0.7"/>
<line x1="211.91" y1="296.3" x2="211.91" y2="297.7" stroke="#222" stroke-width="0.7"/>
<line x1="213.22" y1="296.3" x2="213.22" y2="297.7" stroke="#222" stroke-width="0.7"/>
<line x1="221.53" y1="296.3" x2="221.53" y2="297.7" stroke="#222" stroke-width="0.7"/>
<line x1="225.71" y1="296.3" x2="225.71" y2="297.7" stroke="#222" stroke-width="0.7"/>
<line x1="228.67" y1="296.3" x2="228.67" y2="297.7" stroke="#222" stroke-width="0.7"/>
<line x1="230.97" y1="296.3" x2="230.97" y2="297.7" stroke="#222" stroke-width="0.7"/>
<line x1="232.84" y1="296.3" x2="232.84" y2="297.7" stroke="#222" stroke-width="0.7"/>
<line x1="234.43" y1="296.3" x2="234.43" y2="297.7" stroke="#222" stroke-width="0.7"/>
<line x1="235.80" y1="296.3" x2="235.80" y2="297.7" stroke="#222" stroke-width="0.7"/>
<line x1="237.02" y1="296.3" x2="237.02" y2="297.7" stroke="#222" stroke-width="0.7"/>
<line x1="245.23" y1="296.3" x2="245.23" y2="297.7" stroke="#222" stroke-width="0.7"/>
<line x1="249.41" y1="296.3" x2="249.41" y2="297.7" stroke="#222" stroke-width="0.7"/>
<line x1="252.37" y1="296.3" x2="252.37" y2="297.7" stroke="#222" stroke-width="0.7"/>
<line x1="254.67" y1="296.3" x2="254.67" y2="297.7" stroke="#222" stroke-width="0.7"/>
<line x1="256.54" y1="296.3" x2="256.54" y2="297.7" stroke="#222" stroke-width="0.7"/>
<line x1="258.13" y1="296.3" x2="258.13" y2="297.7" stroke="#222" stroke-width="0.7"/>
<line x1="259.50" y1="296.3" x2="259.50" y2="297.7" stroke="#222" stroke-width="0.7"/>
<line x1="260.72" y1="296.3" x2="260.72" y2="297.7" stroke="#222" stroke-width="0.7"/>
<text x="166.50" y="307.30" font-size="5.0" font-weight="bold" text-anchor="middle" style="stroke-width:0.25px">0</text>
<text x="188.80" y="307.30" font-size="5.0" font-weight="bold" text-anchor="middle" style="stroke-width:0.25px">10<tspan font-size="4.0" dy="-2.4">1</tspan></text>
<text x="214.50" y="307.30" font-size="5.0" font-weight="bold" text-anchor="middle" style="stroke-width:0.25px">10<tspan font-size="4.0" dy="-2.4">2</tspan></text>
<text x="238.20" y="307.30" font-size="5.0" font-weight="bold" text-anchor="middle" style="stroke-width:0.25px">10<tspan font-size="4.0" dy="-2.4">3</tspan></text>
<line x1="27" y1="317.8" x2="64.1" y2="317.8" stroke="#111" stroke-width="1.0"/>
<polygon points="68.1,317.8 61.89999999999999,314.7 63.099999999999994,317.8 61.89999999999999,320.90000000000003" fill="#111"/>
<line x1="157" y1="315.8" x2="209.2" y2="315.8" stroke="#111" stroke-width="1.4"/>
<polygon points="213.2,315.8 207.0,312.7 208.2,315.8 207.0,318.90000000000003" fill="#111"/>
<text x="80.50" y="322.00" font-size="12.2" font-weight="normal" text-anchor="start" style="stroke-width:0.75px">AnnexinV</text>
<text x="227.4" y="319.8" font-size="12.2" style="stroke-width:0.75px">DiOC<tspan font-size="7.4" dy="4.3">6</tspan></text>
<text x="6.1" y="209.8" font-size="12.6" text-anchor="middle" transform="rotate(-90 6.1 209.8)" dominant-baseline="central" style="stroke-width:0.6px">counts</text>
<line x1="5.8" y1="290.7" x2="5.8" y2="236.6" stroke="#111" stroke-width="1.1"/>
<polygon points="5.8,232.6 2.5999999999999996,238.79999999999998 5.8,237.6 9.0,238.79999999999998" fill="#111"/>
<rect x="284.4" y="232.0" width="15.5" height="11.8" fill="#a8a8a8" stroke="#1e1e1e" stroke-width="1.1"/>
<line x1="284.4" y1="261.7" x2="299.9" y2="261.7" stroke="#111" stroke-width="1.7"/>
<rect x="284.4" y="276.8" width="15.5" height="11.8" fill="#cfcfcf" stroke="#1e1e1e" stroke-width="1.1"/>
<text x="315.6" y="242.5" font-size="12.5">GATA3<tspan font-size="6.6" dy="-4.2">+/-</tspan></text>
<text x="315.6" y="265.9" font-size="12.5">GATA3<tspan font-size="6.6" dy="-4.2">-/-</tspan></text>
<text x="315.6" y="286.3" font-size="12.5">PI<tspan font-size="6.6" dy="-4.2">+</tspan><tspan dy="4.2"> (control)</tspan></text>
<polygon points="65.5,466.3 65.5,466.3 66.4,465.0 67.2,460.0 68.8,455.0 71.3,450.0 73.7,445.0 75.7,440.0 77.4,432.0 78.6,430.0 79.3,420.0 80.1,410.0 80.3,404.7 80.7,393.5 81.2,382.4 82.4,371.2 83.7,366.7 85.0,369.0 86.3,371.2 86.8,382.4 87.4,393.5 87.9,404.7 88.5,420.0 89.0,440.0 90.0,466.3 90.0,466.3" fill="#cfcfcf" stroke="none"/>
<polygon points="70.5,466.3 70.5,466.3 71.3,465.0 74.5,460.0 77.0,455.0 78.6,450.0 81.0,440.0 82.6,430.0 85.0,422.0 87.1,417.0 88.8,413.7 89.6,404.7 90.4,393.5 91.1,382.4 91.9,371.2 93.5,363.9 95.0,366.0 96.9,366.5 98.6,371.2 99.4,382.4 100.0,393.5 100.8,404.7 101.5,420.0 102.3,434.4 103.0,440.0 104.2,455.0 105.6,460.0 107.0,463.0 108.5,466.3 108.5,466.3" fill="#a8a8a8" stroke="none"/>
<polyline points="60.0,466.3 66.0,466.3 71.0,465.0 75.1,463.0 78.9,460.0 82.8,455.0 85.2,450.0 87.6,440.0 88.6,430.0 89.6,420.0 90.4,413.7 91.3,404.7 92.4,393.5 93.5,382.4 94.9,371.2 96.9,366.5 98.6,371.2 99.4,382.4 100.0,393.5 100.8,404.7 101.2,410.0 101.5,420.0 102.3,434.4 103.0,440.0 104.2,455.0 105.8,460.0 107.0,462.6 108.4,465.0 110.0,466.3 116.0,466.3" fill="none" stroke="#111" stroke-width="1.7" stroke-linejoin="round"/>
<rect x="27.7" y="360.2" width="105.7" height="106.10000000000002" fill="none" stroke="#141414" stroke-width="1.15"/>
<line x1="25.10" y1="466.30" x2="27.7" y2="466.30" stroke="#222" stroke-width="0.8"/>
<text x="23.80" y="468.70" font-size="5.0" font-weight="bold" text-anchor="end" style="stroke-width:0.25px">0</text>
<line x1="26.40" y1="461.21" x2="27.7" y2="461.21" stroke="#222" stroke-width="0.8"/>
<line x1="26.40" y1="456.12" x2="27.7" y2="456.12" stroke="#222" stroke-width="0.8"/>
<line x1="26.40" y1="451.03" x2="27.7" y2="451.03" stroke="#222" stroke-width="0.8"/>
<line x1="25.10" y1="445.94" x2="27.7" y2="445.94" stroke="#222" stroke-width="0.8"/>
<text x="23.80" y="448.34" font-size="5.0" font-weight="bold" text-anchor="end" style="stroke-width:0.25px">20</text>
<line x1="26.40" y1="440.85" x2="27.7" y2="440.85" stroke="#222" stroke-width="0.8"/>
<line x1="26.40" y1="435.76" x2="27.7" y2="435.76" stroke="#222" stroke-width="0.8"/>
<line x1="26.40" y1="430.67" x2="27.7" y2="430.67" stroke="#222" stroke-width="0.8"/>
<line x1="25.10" y1="425.58" x2="27.7" y2="425.58" stroke="#222" stroke-width="0.8"/>
<text x="23.80" y="427.98" font-size="5.0" font-weight="bold" text-anchor="end" style="stroke-width:0.25px">40</text>
<line x1="26.40" y1="420.49" x2="27.7" y2="420.49" stroke="#222" stroke-width="0.8"/>
<line x1="26.40" y1="415.40" x2="27.7" y2="415.40" stroke="#222" stroke-width="0.8"/>
<line x1="26.40" y1="410.31" x2="27.7" y2="410.31" stroke="#222" stroke-width="0.8"/>
<line x1="25.10" y1="405.22" x2="27.7" y2="405.22" stroke="#222" stroke-width="0.8"/>
<text x="23.80" y="407.62" font-size="5.0" font-weight="bold" text-anchor="end" style="stroke-width:0.25px">60</text>
<line x1="26.40" y1="400.13" x2="27.7" y2="400.13" stroke="#222" stroke-width="0.8"/>
<line x1="26.40" y1="395.04" x2="27.7" y2="395.04" stroke="#222" stroke-width="0.8"/>
<line x1="26.40" y1="389.95" x2="27.7" y2="389.95" stroke="#222" stroke-width="0.8"/>
<line x1="25.10" y1="384.86" x2="27.7" y2="384.86" stroke="#222" stroke-width="0.8"/>
<text x="23.80" y="387.26" font-size="5.0" font-weight="bold" text-anchor="end" style="stroke-width:0.25px">80</text>
<line x1="26.40" y1="379.77" x2="27.7" y2="379.77" stroke="#222" stroke-width="0.8"/>
<line x1="26.40" y1="374.68" x2="27.7" y2="374.68" stroke="#222" stroke-width="0.8"/>
<line x1="26.40" y1="369.59" x2="27.7" y2="369.59" stroke="#222" stroke-width="0.8"/>
<line x1="25.10" y1="364.50" x2="27.7" y2="364.50" stroke="#222" stroke-width="0.8"/>
<text x="23.80" y="366.90" font-size="5.0" font-weight="bold" text-anchor="end" style="stroke-width:0.25px">100</text>
<line x1="39.40" y1="466.3" x2="39.40" y2="468.90000000000003" stroke="#222" stroke-width="0.8"/>
<line x1="50.50" y1="466.3" x2="50.50" y2="468.90000000000003" stroke="#222" stroke-width="0.8"/>
<line x1="76.30" y1="466.3" x2="76.30" y2="468.90000000000003" stroke="#222" stroke-width="0.8"/>
<line x1="100.40" y1="466.3" x2="100.40" y2="468.90000000000003" stroke="#222" stroke-width="0.8"/>
<line x1="124.00" y1="466.3" x2="124.00" y2="468.90000000000003" stroke="#222" stroke-width="0.8"/>
<line x1="30.00" y1="466.3" x2="30.00" y2="467.7" stroke="#222" stroke-width="0.7"/>
<line x1="32.50" y1="466.3" x2="32.50" y2="467.7" stroke="#222" stroke-width="0.7"/>
<line x1="35.00" y1="466.3" x2="35.00" y2="467.7" stroke="#222" stroke-width="0.7"/>
<line x1="37.50" y1="466.3" x2="37.50" y2="467.7" stroke="#222" stroke-width="0.7"/>
<line x1="41.50" y1="466.3" x2="41.50" y2="467.7" stroke="#222" stroke-width="0.7"/>
<line x1="44.00" y1="466.3" x2="44.00" y2="467.7" stroke="#222" stroke-width="0.7"/>
<line x1="46.50" y1="466.3" x2="46.50" y2="467.7" stroke="#222" stroke-width="0.7"/>
<line x1="58.27" y1="466.3" x2="58.27" y2="467.7" stroke="#222" stroke-width="0.7"/>
<line x1="62.81" y1="466.3" x2="62.81" y2="467.7" stroke="#222" stroke-width="0.7"/>
<line x1="66.03" y1="466.3" x2="66.03" y2="467.7" stroke="#222" stroke-width="0.7"/>
<line x1="68.53" y1="466.3" x2="68.53" y2="467.7" stroke="#222" stroke-width="0.7"/>
<line x1="70.58" y1="466.3" x2="70.58" y2="467.7" stroke="#222" stroke-width="0.7"/>
<line x1="72.30" y1="466.3" x2="72.30" y2="467.7" stroke="#222" stroke-width="0.7"/>
<line x1="73.80" y1="466.3" x2="73.80" y2="467.7" stroke="#222" stroke-width="0.7"/>
<line x1="75.12" y1="466.3" x2="75.12" y2="467.7" stroke="#222" stroke-width="0.7"/>
<line x1="83.55" y1="466.3" x2="83.55" y2="467.7" stroke="#222" stroke-width="0.7"/>
<line x1="87.80" y1="466.3" x2="87.80" y2="467.7" stroke="#222" stroke-width="0.7"/>
<line x1="90.81" y1="466.3" x2="90.81" y2="467.7" stroke="#222" stroke-width="0.7"/>
<line x1="93.15" y1="466.3" x2="93.15" y2="467.7" stroke="#222" stroke-width="0.7"/>
<line x1="95.05" y1="466.3" x2="95.05" y2="467.7" stroke="#222" stroke-width="0.7"/>
<line x1="96.67" y1="466.3" x2="96.67" y2="467.7" stroke="#222" stroke-width="0.7"/>
<line x1="98.06" y1="466.3" x2="98.06" y2="467.7" stroke="#222" stroke-width="0.7"/>
<line x1="99.30" y1="466.3" x2="99.30" y2="467.7" stroke="#222" stroke-width="0.7"/>
<line x1="107.50" y1="466.3" x2="107.50" y2="467.7" stroke="#222" stroke-width="0.7"/>
<line x1="111.66" y1="466.3" x2="111.66" y2="467.7" stroke="#222" stroke-width="0.7"/>
<line x1="114.61" y1="466.3" x2="114.61" y2="467.7" stroke="#222" stroke-width="0.7"/>
<line x1="116.90" y1="466.3" x2="116.90" y2="467.7" stroke="#222" stroke-width="0.7"/>
<line x1="118.76" y1="466.3" x2="118.76" y2="467.7" stroke="#222" stroke-width="0.7"/>
<line x1="120.34" y1="466.3" x2="120.34" y2="467.7" stroke="#222" stroke-width="0.7"/>
<line x1="121.71" y1="466.3" x2="121.71" y2="467.7" stroke="#222" stroke-width="0.7"/>
<line x1="122.92" y1="466.3" x2="122.92" y2="467.7" stroke="#222" stroke-width="0.7"/>
<line x1="131.10" y1="466.3" x2="131.10" y2="467.7" stroke="#222" stroke-width="0.7"/>
<text x="39.40" y="477.20" font-size="5.0" font-weight="bold" text-anchor="middle" style="stroke-width:0.25px">0</text>
<text x="50.60" y="477.20" font-size="5.0" font-weight="bold" text-anchor="middle" style="stroke-width:0.25px">10<tspan font-size="4.0" dy="-2.4">2</tspan></text>
<text x="76.40" y="477.20" font-size="5.0" font-weight="bold" text-anchor="middle" style="stroke-width:0.25px">10<tspan font-size="4.0" dy="-2.4">3</tspan></text>
<text x="100.50" y="477.20" font-size="5.0" font-weight="bold" text-anchor="middle" style="stroke-width:0.25px">10<tspan font-size="4.0" dy="-2.4">4</tspan></text>
<text x="124.10" y="477.20" font-size="5.0" font-weight="bold" text-anchor="middle" style="stroke-width:0.25px">10<tspan font-size="4.0" dy="-2.4">5</tspan></text>
<line x1="27" y1="487.6" x2="91.2" y2="487.6" stroke="#111" stroke-width="1.1"/>
<polygon points="95.2,487.6 89.0,484.5 90.2,487.6 89.0,490.70000000000005" fill="#111"/>
<text x="110.70" y="491.80" font-size="12.2" font-weight="normal" text-anchor="start" style="stroke-width:0.75px">Bcl2</text>
<text x="6.3" y="382.6" font-size="12.6" text-anchor="middle" transform="rotate(-90 6.3 382.6)" dominant-baseline="central" style="stroke-width:0.6px">counts</text>
<line x1="5.8" y1="463.4" x2="5.8" y2="409.9" stroke="#111" stroke-width="1.1"/>
<polygon points="5.8,405.9 2.5999999999999996,412.09999999999997 5.8,410.9 9.0,412.09999999999997" fill="#111"/>
<rect x="156.4" y="408.8" width="15.5" height="11.8" fill="#a8a8a8" stroke="#1e1e1e" stroke-width="1.1"/>
<line x1="156.4" y1="437.8" x2="171.9" y2="437.8" stroke="#111" stroke-width="1.7"/>
<rect x="156.4" y="453.2" width="15.5" height="11.8" fill="#cfcfcf" stroke="#1e1e1e" stroke-width="1.1"/>
<text x="187.4" y="418.8" font-size="12.5">GATA3<tspan font-size="6.6" dy="-4.2">+/-</tspan></text>
<text x="187.4" y="442.0" font-size="12.5">GATA3<tspan font-size="6.6" dy="-4.2">-/-</tspan></text>
<text x="187.4" y="463.1" font-size="12.5">CD25<tspan font-size="6.6" dy="-4.2">-</tspan><tspan dy="4.2"> Lin</tspan><tspan font-size="6.6" dy="-4.2">+</tspan><tspan dy="4.2"> (control)</tspan></text>
</svg>
</body></html>
